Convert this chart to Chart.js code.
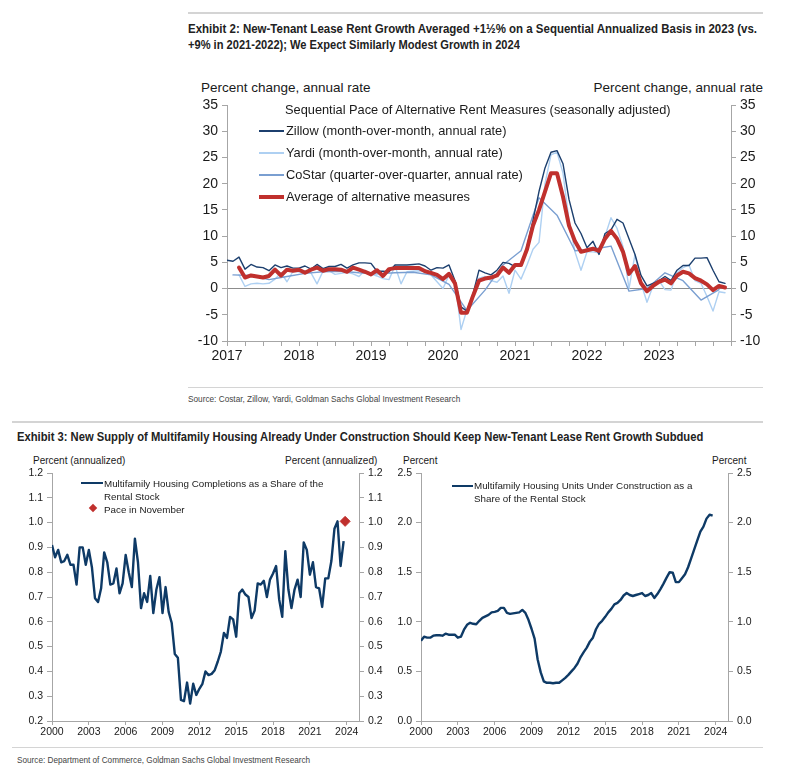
<!DOCTYPE html>
<html>
<head>
<meta charset="utf-8">
<script src="https://cdn.jsdelivr.net/npm/chart.js@4.4.1/dist/chart.umd.min.js"></script>
<style>
  body { margin: 0; background: #fff; width: 805px; height: 772px; position: relative; overflow: hidden;
         font-family: "Liberation Sans", Arial, sans-serif; color: #1a1a1a; }
  .t { position: absolute; white-space: nowrap; }
  .rule { position: absolute; background: #d4d4d4; }
  .ttl { font-family: "Liberation Sans", Arial, sans-serif; font-weight: bold; font-size: 12.5px; line-height: 16px; color: #222; transform-origin: left center; }
  .src { font-family: "Liberation Sans", Arial, sans-serif; font-size: 9px; line-height: 12px; color: #444; transform-origin: left center; }
  .lg { font-size: 12.8px; line-height: 16px; }
  .lg2 { font-size: 9.8px; line-height: 13px; }
  .sw { position: absolute; }
  canvas { position: absolute; }
</style>
</head>
<body>

<div class="rule" style="left:188px;top:12px;width:575px;height:2px"></div>
<div class="t ttl" data-w="569" style="left:188px;top:21px">Exhibit 2: New-Tenant Lease Rent Growth Averaged +1½% on a Sequential Annualized Basis in 2023 (vs.</div>
<div class="t ttl" data-w="332" style="left:188px;top:37px">+9% in 2021-2022); We Expect Similarly Modest Growth in 2024</div>

<div class="t" style="left:201px;top:80px;font-size:13.5px;line-height:16px">Percent change, annual rate</div>
<div class="t" style="right:42px;top:80px;font-size:13.5px;line-height:16px">Percent change, annual rate</div>

<canvas id="rentChart" width="582" height="310" style="left:188px;top:60px;width:582px;height:310px"></canvas>

<div class="t lg" style="left:285px;top:102px">Sequential Pace of Alternative Rent Measures (seasonally adjusted)</div>
<div class="sw" style="left:259px;top:130px;width:25px;height:2px;background:#1c3f6e"></div>
<div class="t lg" style="left:286px;top:123px">Zillow (month-over-month, annual rate)</div>
<div class="sw" style="left:259px;top:152px;width:25px;height:2px;background:#aed0f2"></div>
<div class="t lg" style="left:286px;top:145px">Yardi (month-over-month, annual rate)</div>
<div class="sw" style="left:259px;top:174px;width:25px;height:2px;background:#7a9fd1"></div>
<div class="t lg" style="left:286px;top:167px">CoStar (quarter-over-quarter, annual rate)</div>
<div class="sw" style="left:259px;top:195px;width:25px;height:4px;background:#c0302d"></div>
<div class="t lg" style="left:286px;top:189px">Average of alternative measures</div>

<div class="rule" style="left:188px;top:387px;width:575px;height:1px"></div>
<div class="t src" data-w="272" style="left:188px;top:393px">Source: Costar, Zillow, Yardi, Goldman Sachs Global Investment Research</div>

<div class="rule" style="left:12px;top:421px;width:751px;height:2px"></div>
<div class="t ttl" data-w="686" style="left:17px;top:429px">Exhibit 3: New Supply of Multifamily Housing Already Under Construction Should Keep New-Tenant Lease Rent Growth Subdued</div>

<div class="t" style="left:33px;top:455px;font-size:10px;line-height:12px">Percent (annualized)</div>
<div class="t" style="left:285px;top:455px;font-size:10px;line-height:12px">Percent (annualized)</div>
<div class="t" style="left:403px;top:455px;font-size:10px;line-height:12px">Percent</div>
<div class="t" style="left:712px;top:455px;font-size:10px;line-height:12px">Percent</div>

<canvas id="completionsChart" width="373" height="290" style="left:12px;top:450px;width:373px;height:290px"></canvas>
<canvas id="constructionChart" width="395" height="290" style="left:385px;top:450px;width:395px;height:290px"></canvas>

<div class="sw" style="left:81px;top:482px;width:22px;height:2px;background:#0e3a66"></div>
<div class="t lg2" style="left:104px;top:477px">Multifamily Housing Completions as a Share of the<br>Rental Stock</div>
<div class="sw" style="left:90px;top:505px;width:6px;height:6px;background:#c0302d;transform:rotate(45deg)"></div>
<div class="t lg2" style="left:104px;top:503px">Pace in November</div>

<div class="sw" style="left:452px;top:485px;width:21px;height:2px;background:#0e3a66"></div>
<div class="t lg2" style="left:474px;top:479px">Multifamily Housing Units Under Construction as a<br>Share of the Rental Stock</div>

<div class="rule" style="left:12px;top:747px;width:751px;height:1px"></div>
<div class="t src" data-w="293" style="left:17px;top:754px">Source: Department of Commerce, Goldman Sachs Global Investment Research</div>

<script>
// Exhibit 2: monthly, Jan 2017 - Dec 2023 (percent change, annual rate)
const rentStartYear = 2017;
const rentYears = ['2017', '2018', '2019', '2020', '2021', '2022', '2023'];

const zillow = [
  5.4, 5.2, 6.0, 3.7, 4.6, 4.1, 4.0, 3.4, 4.5, 4.0, 4.3, 3.9,
  3.9, 4.3, 3.7, 4.6, 3.8, 4.2, 4.2, 4.6, 3.9, 4.5, 4.9, 4.9,
  4.8, 3.3, 3.3, 3.2, 4.5, 4.5, 4.5, 4.6, 4.7, 4.3, 3.5, 4.0,
  3.9, 4.5, 1.5, -3.5, -4.3, -1.0, 3.5, 3.0, 2.6, 3.5, 5.0, 4.8,
  4.2, 4.5, 8.0, 13.0, 18.5, 23.0, 26.0, 26.3, 23.8, 17.0, 12.5, 10.5,
  7.8, 9.0, 6.5, 10.5, 11.2, 13.2, 12.5, 9.5, 6.5, 2.5, 0.5, 1.0,
  1.5, 2.3, 1.5, 3.5, 4.4, 4.4, 5.8, 5.8, 5.9, 3.5, 1.3, 1.0
];

const yardi = [
  null, null, 2.6, 0.4, 0.9, 1.0, 0.9, 1.0, 1.8, 3.0, 1.3, 3.3,
  3.2, 3.4, 3.0, 0.9, 3.3, 3.4, 2.7, 2.9, 3.1, 2.8, 2.3, 3.5,
  2.8, 2.4, 1.9, 1.7, 4.3, 0.9, 3.2, 3.3, 3.4, 3.2, 2.6, 1.3,
  0.0, 2.6, 1.5, -7.8, -4.0, -1.5, 2.0, 2.3, 1.5, 1.2, 2.4, -0.9,
  3.5, 1.8, 4.5, 7.5, 8.8, 20.0, 25.5, 26.0, 22.0, 13.0, 7.0, 3.5,
  7.0, 7.0, 6.8, 10.0, 13.5, 11.5, 8.0, 0.0, 6.5, 1.0, -2.6, 0.5,
  1.5, -0.2, -0.3, 3.0, 4.0, 4.5, 1.5, 1.0, -1.5, -4.3, -0.6, -0.8
];

const average = [
  null, null, 4.0, 2.1, 2.5, 2.3, 2.1, 2.4, 3.6, 2.5, 3.6, 3.4,
  3.6, 3.0, 3.6, 4.0, 3.4, 3.7, 3.7, 3.6, 3.2, 4.0, 3.6, 3.2,
  2.7, 3.5, 2.4, 3.7, 3.9, 3.9, 3.9, 3.9, 3.9, 3.3, 3.0, 2.6,
  1.8, 2.8, 1.0, -4.6, -4.6, -1.4, 1.5, 1.9, 2.1, 2.5, 4.0, 3.0,
  4.5, 4.5, 7.5, 12.0, 15.0, 18.5, 22.0, 22.0, 17.5, 12.0, 9.0, 7.0,
  7.3, 7.6, 7.2, 9.5, 11.0, 9.5, 7.0, 2.8, 4.3, 1.0, -0.5, 0.5,
  1.3, 1.7, 1.0, 2.5, 3.2, 2.9, 2.0, 1.5, 0.8, -0.3, 0.5, 0.2
];

// CoStar is quarterly (2017Q1 - 2023Q4), plotted at the middle month of each quarter
const costar = [
  2.6, 2.5, 1.7, 2.3,
  2.9, 3.2, 3.3, 3.0,
  2.8, 3.0, 3.1, 2.6,
  0.8, -4.2, -0.3, 4.5,
  7.2, 17.3, 14.0, 7.2,
  7.5, 8.1, -0.5, 0.0,
  3.0, 1.5, -2.2, -0.2
];

// Exhibit 3: quarterly, 2000Q1 - 2023Q4 (percent of rental stock)
const supplyStartYear = 2000;
const supplyYears = ['2000', '2003', '2006', '2009', '2012', '2015', '2018', '2021', '2024'];

const completions = [
  0.91, 0.86, 0.89, 0.84, 0.845, 0.87, 0.83, 0.83,
  0.75, 0.90, 0.90, 0.83, 0.89, 0.82, 0.695, 0.68,
  0.735, 0.88, 0.84, 0.75, 0.755, 0.815, 0.715, 0.755,
  0.87, 0.80, 0.74, 0.935, 0.84, 0.655, 0.715, 0.68,
  0.785, 0.635, 0.73, 0.78, 0.635, 0.74, 0.64, 0.595,
  0.47, 0.455, 0.285, 0.28, 0.355, 0.27, 0.35, 0.305,
  0.33, 0.35, 0.40, 0.385, 0.39, 0.405, 0.44, 0.48,
  0.555, 0.535, 0.62, 0.61, 0.54, 0.715, 0.73, 0.71,
  0.70, 0.615, 0.645, 0.755, 0.75, 0.765, 0.70, 0.77,
  0.795, 0.825, 0.69, 0.62, 0.885, 0.73, 0.655, 0.73,
  0.77, 0.70, 0.92, 0.89, 0.79, 0.84, 0.74, 0.735,
  0.66, 0.775, 0.775, 0.845, 0.975, 1.005, 0.825, 0.925
];
const novemberPace = 1.005;
const novemberDate = 2023.87;

const underConstruction = [
  0.81, 0.85, 0.84, 0.84, 0.86, 0.865, 0.865, 0.86,
  0.88, 0.87, 0.87, 0.87, 0.84, 0.85, 0.92, 0.97,
  0.99, 0.98, 0.975, 1.01, 1.04, 1.055, 1.07, 1.095,
  1.10, 1.11, 1.14, 1.14, 1.09, 1.08, 1.085, 1.09,
  1.095, 1.12, 1.09, 1.02, 0.93, 0.83, 0.62, 0.49,
  0.40, 0.385, 0.385, 0.38, 0.385, 0.385, 0.41, 0.435,
  0.465, 0.50, 0.535, 0.58, 0.645, 0.695, 0.74, 0.80,
  0.84, 0.925, 0.98, 1.01, 1.05, 1.095, 1.13, 1.175,
  1.19, 1.22, 1.265, 1.29, 1.27, 1.26, 1.27, 1.28,
  1.29, 1.26, 1.27, 1.29, 1.24, 1.28, 1.33, 1.385,
  1.445, 1.50, 1.495, 1.40, 1.40, 1.44, 1.48, 1.55,
  1.64, 1.73, 1.82, 1.91, 1.96, 2.04, 2.08, 2.07
];

// squeeze the narrow-font headings to the width they take in the report
document.querySelectorAll('[data-w]').forEach(el => {
  const k = Number(el.dataset.w) / el.offsetWidth;
  el.style.transform = 'scaleX(' + k + ')';
});

const axisGrey = '#a6a6a6';
const textColor = '#1a1a1a';
Chart.defaults.font.family = '"Liberation Sans", Arial, sans-serif';
Chart.defaults.color = textColor;

const monthly = (arr) => arr.map((v, i) => ({ x: rentStartYear + i / 12, y: v }));
const quarterMid = (arr) => arr.map((v, i) => ({ x: rentStartYear + (3 * i + 1) / 12, y: v }));
const quarterly = (arr) => arr.map((v, i) => ({ x: supplyStartYear + i / 4, y: v }));

function valueAxis(pos, min, max, step, width, fontSize, digits, zeroLine) {
  return {
    position: pos, min: min, max: max,
    ticks: { stepSize: step, padding: 4, color: textColor, font: { size: fontSize },
             callback: v => v.toFixed(digits) },
    grid: { drawOnChartArea: pos === 'left' && zeroLine, tickLength: 5, tickColor: axisGrey,
            color: c => (c.tick && c.tick.value === 0) ? '#8c8c8c' : 'rgba(0,0,0,0)' },
    border: { color: axisGrey },
    afterFit: s => { s.width = width; }
  };
}

// ---------- Exhibit 2 ----------
new Chart(document.getElementById('rentChart'), {
  type: 'line',
  data: {
    datasets: [
      { label: 'Average of alternative measures', data: monthly(average), borderColor: '#c0302d', borderWidth: 4, order: 0 },
      { label: 'Zillow (month-over-month, annual rate)', data: monthly(zillow), borderColor: '#1c3f6e', borderWidth: 1.4, order: 1 },
      { label: 'CoStar (quarter-over-quarter, annual rate)', data: quarterMid(costar), borderColor: '#7a9fd1', borderWidth: 1.4, order: 2 },
      { label: 'Yardi (month-over-month, annual rate)', data: monthly(yardi), borderColor: '#aed0f2', borderWidth: 1.4, order: 3 }
    ]
  },
  options: {
    responsive: false,
    animation: false,
    parsing: false,
    elements: { point: { radius: 0 }, line: { tension: 0, borderCapStyle: 'round', borderJoinStyle: 'round' } },
    layout: { padding: { top: 45, left: 0, right: 0, bottom: 0 } },
    plugins: { legend: { display: false }, tooltip: { enabled: false } },
    scales: {
      x: {
        type: 'linear', min: 2017, max: 2024,
        afterBuildTicks: s => {
          const t = [];
          for (let q = 0; q <= 28; q++) t.push({ value: 2017 + q / 4 });
          s.ticks = t;
        },
        ticks: { autoSkip: false, maxRotation: 0, padding: 2, color: textColor, font: { size: 14 },
                 callback: v => rentYears.includes(String(v)) ? String(v) : '' },
        grid: { drawOnChartArea: false, tickLength: 5, color: axisGrey },
        border: { color: axisGrey },
        afterFit: s => { s.height = 29; }
      },
      y: valueAxis('left', -10, 35, 5, 39, 14, 0, true),
      y2: valueAxis('right', -10, 35, 5, 39, 14, 0, false)
    }
  }
});

// ---------- Exhibit 3 ----------
function yearAxis(height) {
  return {
    type: 'linear', min: 2000, max: 2025,
    afterBuildTicks: s => { s.ticks = supplyYears.map(y => ({ value: Number(y) })); },
    ticks: { autoSkip: false, maxRotation: 0, padding: 1, color: textColor, font: { size: 10.5 },
             callback: v => String(v) },
    grid: { drawOnChartArea: false, tickLength: 4, color: axisGrey },
    border: { color: axisGrey },
    afterFit: s => { s.height = height; }
  };
}

new Chart(document.getElementById('completionsChart'), {
  type: 'line',
  data: {
    datasets: [
      { label: 'Pace in November', data: [{ x: novemberDate, y: novemberPace }], showLine: false,
        pointStyle: 'rectRot', pointRadius: 5, pointBackgroundColor: '#c0302d', pointBorderColor: '#c0302d' },
      { label: 'Multifamily Housing Completions as a Share of the Rental Stock', data: quarterly(completions),
        borderColor: '#0e3a66', borderWidth: 2.4, pointRadius: 0 }
    ]
  },
  options: {
    responsive: false,
    animation: false,
    parsing: false,
    elements: { line: { tension: 0, borderJoinStyle: 'round' } },
    layout: { padding: { top: 23, left: 0, right: 0, bottom: 0 } },
    plugins: { legend: { display: false }, tooltip: { enabled: false } },
    scales: {
      x: yearAxis(19),
      y: valueAxis('left', 0.2, 1.2, 0.1, 40, 10.5, 1, false),
      y2: valueAxis('right', 0.2, 1.2, 0.1, 26, 10.5, 1, false)
    }
  }
});

new Chart(document.getElementById('constructionChart'), {
  type: 'line',
  data: {
    datasets: [
      { label: 'Multifamily Housing Units Under Construction as a Share of the Rental Stock',
        data: quarterly(underConstruction), borderColor: '#0e3a66', borderWidth: 2.4, pointRadius: 0 }
    ]
  },
  options: {
    responsive: false,
    animation: false,
    parsing: false,
    elements: { line: { tension: 0, borderJoinStyle: 'round' } },
    layout: { padding: { top: 23, left: 0, right: 0, bottom: 0 } },
    plugins: { legend: { display: false }, tooltip: { enabled: false } },
    scales: {
      x: yearAxis(19),
      y: valueAxis('left', 0, 2.5, 0.5, 36, 10.5, 1, false),
      y2: valueAxis('right', 0, 2.5, 0.5, 52, 10.5, 1, false)
    }
  }
});
</script>
</body>
</html>
